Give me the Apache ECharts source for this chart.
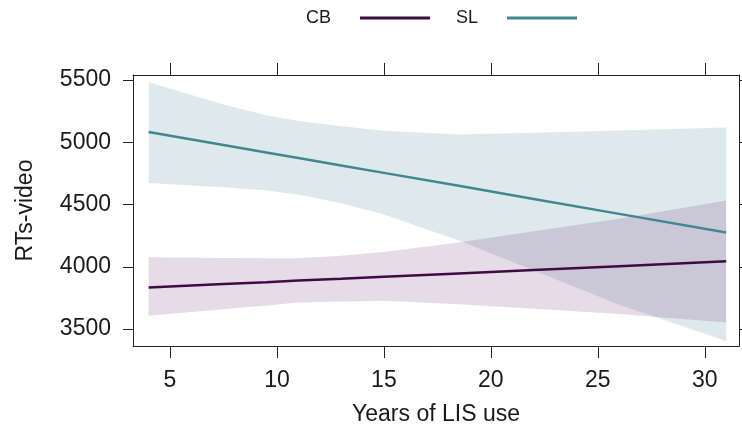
<!DOCTYPE html>
<html>
<head>
<meta charset="utf-8">
<script src="https://cdn.jsdelivr.net/npm/echarts@6/dist/echarts.min.js"></script>
<style>
html,body{margin:0;padding:0;background:#fff;}
#chart{width:742px;height:437px;}
</style>
</head>
<body>
<div id="chart"></div>
<script>
// Sampled years of LIS use
var years = [4, 7.5, 9.5, 11, 13, 15, 18.5, 22, 26, 31];
// SL: fitted line and confidence band
var slFit   = [5083, 4978, 4918, 4874, 4814, 4754, 4650, 4545, 4425, 4275];
var slUpper = [5481, 5304, 5216, 5170, 5129, 5092, 5062, 5076, 5094, 5119];
var slLower = [4672, 4638, 4612, 4580, 4510, 4420, 4212, 3970, 3695, 3404];
// CB: fitted line and confidence band
var cbFit   = [3834, 3861, 3876, 3889, 3904, 3920, 3947, 3974, 4005, 4044];
var cbUpper = [4076, 4071, 4069, 4068, 4088, 4118, 4196, 4285, 4385, 4533];
var cbLower = [3606, 3660, 3690, 3713, 3722, 3727, 3700, 3663, 3620, 3552];
// Tick labels
var xTicks = [5, 10, 15, 20, 25, 30];
var yTicks = [3500, 4000, 4500, 5000, 5500];
var seriesNames = ['CB', 'SL'];

function pairs(xs, ys) { return xs.map(function (x, i) { return [x, ys[i]]; }); }
function triples(xs, lo, hi) { return xs.map(function (x, i) { return [x, lo[i], hi[i]]; }); }

var axisColor = '#222';
var textColor = '#1a1a1a';
var font = 'Liberation Sans, Arial, sans-serif';
var slColor = '#41878f';
var cbColor = '#3d0c40';

function band(lo, hi, fill) {
  return {
    type: 'custom', silent: true, z: 1,
    data: triples(years, lo, hi),
    encode: { x: 0, y: [1, 2] },
    renderItem: function (params, api) {
      if (params.dataIndex !== 0) return null;
      var pts = [];
      for (var i = 0; i < years.length; i++) pts.push(api.coord([years[i], hi[i]]));
      for (var j = years.length - 1; j >= 0; j--) pts.push(api.coord([years[j], lo[j]]));
      return { type: 'polygon', shape: { points: pts }, style: { fill: fill, stroke: null } };
    }
  };
}

var chart = echarts.init(document.getElementById('chart'), null, { renderer: 'canvas' });
chart.setOption({
  animation: false,
  backgroundColor: '#fff',
  textStyle: { fontFamily: font },
  grid: { left: 133, right: 3, top: 75, bottom: 91, containLabel: false },
  legend: {
    data: seriesNames,
    left: 301, top: 4,
    align: 'right',
    icon: 'rect',
    itemWidth: 70, itemHeight: 3,
    itemGap: 26,
    selectedMode: false,
    textStyle: { fontSize: 18, color: textColor, fontFamily: font, padding: [0, 24, 0, 0] }
  },
  xAxis: [{
    type: 'value', position: 'bottom', min: 3.27, max: 31.6,
    axisLine: { show: true, onZero: false, lineStyle: { color: axisColor, width: 1 } },
    axisTick: { show: true, inside: false, length: 12, customValues: xTicks, lineStyle: { color: axisColor } },
    axisLabel: { show: true, customValues: xTicks, fontSize: 23, color: textColor, margin: 23, fontFamily: font,
                 formatter: function (v) { return String(v); } },
    splitLine: { show: false },
    name: 'Years of LIS use', nameLocation: 'middle', nameGap: 57,
    nameTextStyle: { fontSize: 23, color: textColor, fontFamily: font }
  }, {
    type: 'value', position: 'top', min: 3.27, max: 31.6,
    axisLine: { show: true, onZero: false, lineStyle: { color: axisColor, width: 1 } },
    axisTick: { show: true, inside: false, length: 12, customValues: xTicks, lineStyle: { color: axisColor } },
    axisLabel: { show: false },
    splitLine: { show: false }
  }],
  yAxis: [{
    type: 'value', position: 'left', min: 3364, max: 5540,
    axisLine: { show: true, onZero: false, lineStyle: { color: axisColor, width: 1 } },
    axisTick: { show: true, inside: false, length: 10, customValues: yTicks, lineStyle: { color: axisColor } },
    axisLabel: { show: true, customValues: yTicks, fontSize: 23, color: textColor, margin: 22, fontFamily: font,
                 formatter: function (v) { return String(v); } },
    splitLine: { show: false },
    name: 'RTs-video', nameLocation: 'middle', nameGap: 96, nameRotate: 90,
    nameTextStyle: { fontSize: 23, color: textColor, fontFamily: font }
  }, {
    type: 'value', position: 'right', min: 3364, max: 5540,
    axisLine: { show: true, onZero: false, lineStyle: { color: axisColor, width: 1 } },
    axisTick: { show: true, inside: false, length: 10, customValues: yTicks, lineStyle: { color: axisColor } },
    axisLabel: { show: false },
    splitLine: { show: false }
  }],
  series: [
    band(slLower, slUpper, 'rgba(65,135,143,0.18)'),
    band(cbLower, cbUpper, 'rgba(110,40,110,0.17)'),
    { name: 'CB', type: 'line', data: pairs(years, cbFit), symbol: 'none', color: cbColor,
      lineStyle: { color: cbColor, width: 2.5 }, z: 3 },
    { name: 'SL', type: 'line', data: pairs(years, slFit), symbol: 'none', color: slColor,
      lineStyle: { color: slColor, width: 2.5 }, z: 3 }
  ]
});
</script>
</body>
</html>
